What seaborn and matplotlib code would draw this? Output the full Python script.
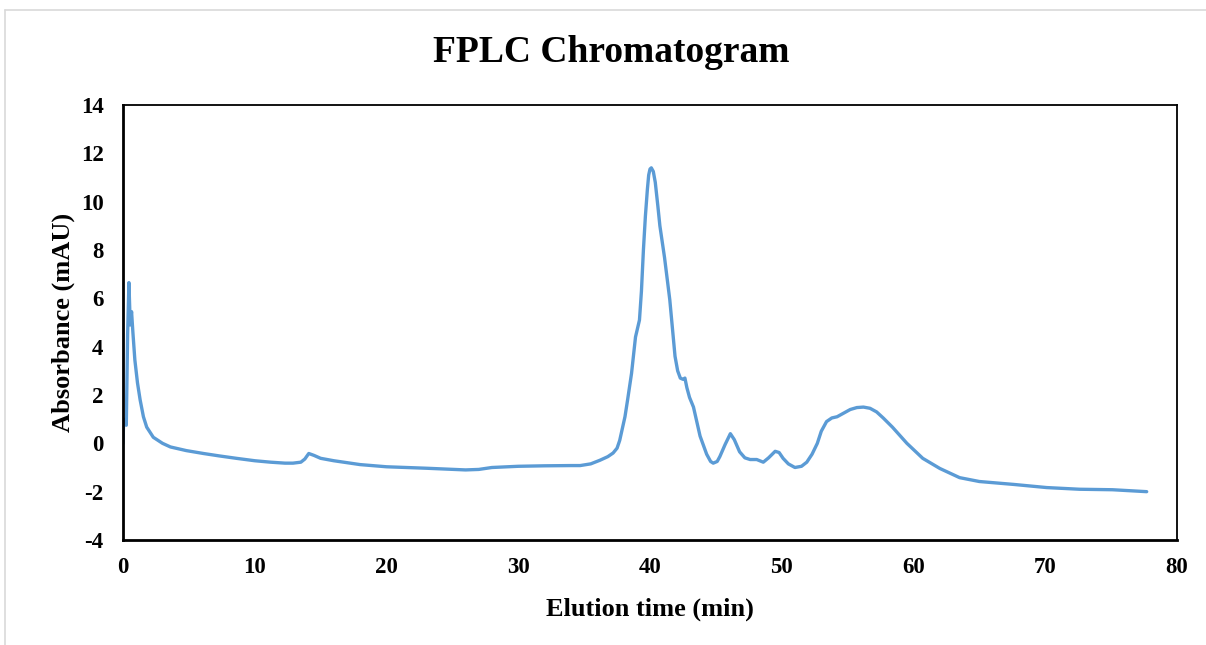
import matplotlib
matplotlib.use("Agg")
import matplotlib.pyplot as plt
import seaborn as sns
import pandas as pd
from matplotlib.lines import Line2D

time_min = [0.0, 0.05, 0.15, 0.25, 0.35, 0.45, 0.55, 0.65, 0.75, 0.9, 1.1, 1.3, 1.55, 1.8, 2.3, 3.0,
            3.6, 4.8, 6.1, 7.3, 8.6, 10.0, 11.2, 12.3, 12.9, 13.5, 13.8, 14.1, 14.5, 15.0, 16.0,
            18.0, 20.0, 23.0, 26.0, 27.0, 28.0, 30.0, 32.0, 34.0, 34.7, 35.5, 36.2, 36.8, 37.2, 37.5,
            37.7, 38.1, 38.3, 38.6, 38.9, 39.2, 39.35, 39.5, 39.65, 39.8, 39.9, 40.0, 40.1, 40.25, 40.4,
            40.6, 40.75, 41.1, 41.5, 41.9, 42.1, 42.3, 42.5, 42.65, 42.8, 43.0, 43.3, 43.8, 44.3, 44.6,
            44.8, 45.1, 45.3, 45.7, 46.1, 46.4, 46.8, 47.2, 47.6, 48.1, 48.6, 49.0, 49.5, 49.8, 50.1,
            50.5, 51.0, 51.5, 51.9, 52.3, 52.7, 53.0, 53.4, 53.8, 54.2, 54.7, 55.2, 55.7, 56.2, 56.7,
            57.2, 57.7, 58.4, 59.5, 60.7, 62.0, 63.5, 65.0, 67.6, 70.1, 72.6, 75.1, 77.7]
absorbance = [0.0, 1.0, 0.8, 0.75, 4.5, 6.65, 4.9, 5.45, 4.6, 3.45, 2.5, 1.8, 1.1, 0.67, 0.25, 0.0,
              -0.15, -0.3, -0.42, -0.52, -0.62, -0.72, -0.78, -0.82, -0.82, -0.78, -0.65, -0.42, -0.5, -0.62, -0.72,
              -0.88, -0.97, -1.03, -1.1, -1.08, -1.0, -0.95, -0.93, -0.92, -0.92, -0.85, -0.7, -0.55, -0.4, -0.2,
              0.12, 1.1, 1.8, 2.9, 4.4, 5.1, 6.3, 8.0, 9.4, 10.5, 11.1, 11.35, 11.4, 11.25, 10.8,
              9.8, 9.0, 7.7, 5.95, 3.6, 3.0, 2.7, 2.65, 2.7, 2.3, 1.9, 1.5, 0.3, -0.45, -0.75,
              -0.82, -0.75, -0.55, -0.05, 0.4, 0.15, -0.35, -0.6, -0.67, -0.67, -0.78, -0.6, -0.33, -0.38, -0.62,
              -0.85, -1.0, -0.95, -0.78, -0.45, 0.0, 0.5, 0.9, 1.05, 1.1, 1.25, 1.4, 1.48, 1.5, 1.45,
              1.3, 1.05, 0.67, 0.0, -0.62, -1.04, -1.42, -1.58, -1.7, -1.83, -1.9, -1.92, -2.0]

x_ticks = [0, 10, 20, 30, 40, 50, 60, 70, 80]
y_ticks = [-4, -2, 0, 2, 4, 6, 8, 10, 12, 14]

df = pd.DataFrame({"time": time_min, "abs": absorbance})

sns.set_style("white")
plt.rcParams["font.family"] = ["Liberation Serif", "DejaVu Serif"]
plt.rcParams["text.color"] = "black"
plt.rcParams["axes.labelcolor"] = "black"
plt.rcParams["xtick.color"] = "black"
plt.rcParams["ytick.color"] = "black"

fig = plt.figure(figsize=(12.06, 6.45), dpi=100)
ax = fig.add_axes([123 / 1206, 105 / 645, (1177 - 123) / 1206, (540 - 105) / 645])

sns.lineplot(data=df, x="time", y="abs", ax=ax, color="#5B9BD5", linewidth=2.4,
             estimator=None, sort=False, solid_joinstyle="round", solid_capstyle="round")

ax.set_xlim(0, 80)
ax.set_ylim(-4, 14)
ax.set_xticks(x_ticks)
ax.set_yticks(y_ticks)
ax.set_xticklabels([str(t) for t in x_ticks], fontsize=16.5, fontweight="bold")
ax.set_yticklabels([str(t) for t in y_ticks], fontsize=16.5, fontweight="bold")
ax.tick_params(axis="x", length=0, pad=12)
ax.tick_params(axis="y", length=0, pad=14)
for s in ax.spines.values():
    s.set_color("black")
    s.set_linewidth(1.3)
ax.spines["bottom"].set_linewidth(2.0)
ax.spines["left"].set_linewidth(2.0)

ax.set_xlabel("Elution time (min)", fontsize=19, fontweight="bold", labelpad=14)
ax.set_ylabel("Absorbance (mAU)", fontsize=19, fontweight="bold", labelpad=4)
fig.text(0.507, 1 - 53 / 645, "FPLC Chromatogram", ha="center", va="center", fontsize=27, fontweight="bold")

# light outer frame
fig.add_artist(Line2D([5 / 1206, 5 / 1206], [0, 1 - 10 / 645], transform=fig.transFigure, color="#d9d9d9", lw=1.2))
fig.add_artist(Line2D([5 / 1206, 1], [1 - 10 / 645, 1 - 10 / 645], transform=fig.transFigure, color="#d9d9d9", lw=1.2))

fig.savefig("out.png", dpi=100)
